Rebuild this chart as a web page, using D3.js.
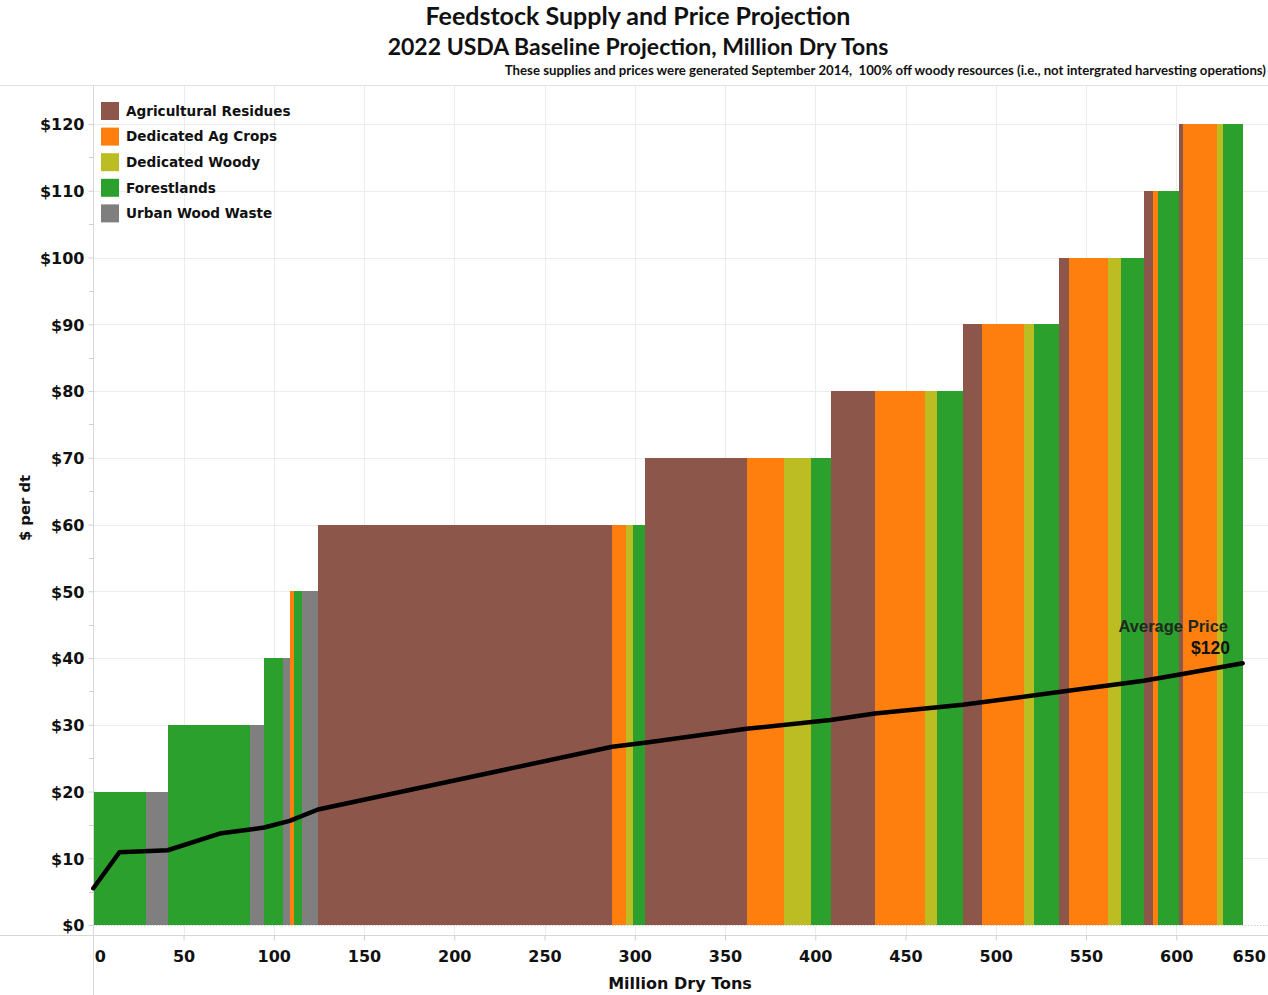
<!DOCTYPE html>
<html>
<head>
<meta charset="utf-8">
<script src="https://cdn.jsdelivr.net/npm/d3@7"></script>
<style>
  html, body { margin: 0; padding: 0; background: #fff; }
  svg { display: block; }
</style>
</head>
<body>
<svg id="chart" width="1268" height="995"></svg>
<script>
// ---------- DATA ----------
const categories = ["Agricultural Residues", "Dedicated Ag Crops", "Dedicated Woody", "Forestlands", "Urban Wood Waste"];
const categoryColors = ["#8c564b", "#ff7f0e", "#bcbd22", "#2ca02c", "#7f7f7f"];

// supply segments in order along the x axis (million dry tons), their price ($/dt) and category
const segPrice = [20, 20, 30, 30, 40, 40, 50, 50, 50,
                  60, 60, 60, 60, 70, 70, 70, 70, 80, 80, 80, 80,
                  90, 90, 90, 90, 100, 100, 100, 100, 110, 110, 110,
                  120, 120, 120, 120];
const segCategory = ["Forestlands", "Urban Wood Waste", "Forestlands", "Urban Wood Waste", "Forestlands", "Urban Wood Waste",
                     "Dedicated Ag Crops", "Forestlands", "Urban Wood Waste",
                     "Agricultural Residues", "Dedicated Ag Crops", "Dedicated Woody", "Forestlands",
                     "Agricultural Residues", "Dedicated Ag Crops", "Dedicated Woody", "Forestlands",
                     "Agricultural Residues", "Dedicated Ag Crops", "Dedicated Woody", "Forestlands",
                     "Agricultural Residues", "Dedicated Ag Crops", "Dedicated Woody", "Forestlands",
                     "Agricultural Residues", "Dedicated Ag Crops", "Dedicated Woody", "Forestlands",
                     "Agricultural Residues", "Dedicated Ag Crops", "Forestlands",
                     "Agricultural Residues", "Dedicated Ag Crops", "Dedicated Woody", "Forestlands"];
const segTons = [29.0, 12.2, 45.6, 7.9, 10.2, 3.9, 2.6, 4.5, 8.6,
                 163.0, 7.5, 4.2, 6.4, 56.4, 20.7, 14.8, 11.0,
                 24.6, 27.7, 6.8, 14.1, 10.5, 23.4, 5.7, 13.7,
                 5.6, 21.7, 7.1, 12.7, 5.2, 2.7, 11.7,
                 1.8, 18.9, 3.3, 11.1];

// average price line (cumulative million dry tons, $/dt)
const avgTons  = [0, 14.5, 41.2, 70, 86.8, 94.7, 108.8, 124.5, 287.5, 305.6, 362, 408.5, 433, 481.7, 535, 582, 603.5, 636.8];
const avgPrice = [5.5, 10.9, 11.2, 13.7, 14.3, 14.6, 15.6, 17.3, 26.7, 27.3, 29.4, 30.7, 31.7, 33.0, 34.9, 36.6, 37.6, 39.2];

const xTicks = [0, 50, 100, 150, 200, 250, 300, 350, 400, 450, 500, 550, 600, 650];
const yTicks = [0, 10, 20, 30, 40, 50, 60, 70, 80, 90, 100, 110, 120];

const titleText = "Feedstock Supply and Price Projection";
const subtitleText = "2022 USDA Baseline Projection, Million Dry Tons";
const noteText = "These supplies and prices were generated September 2014,  100% off woody resources (i.e., not intergrated harvesting operations)";
const xTitle = "Million Dry Tons";
const yTitle = "$ per dt";
const avgLabel = ["Average Price", "$120"];

// ---------- CHART ----------
const W = 1268, H = 995;
const svg = d3.select("#chart");
const x = d3.scaleLinear().domain([0, 650]).range([93.3, 1266.5]);
const y = d3.scaleLinear().domain([0, 120]).range([925, 124]);
const color = d3.scaleOrdinal().domain(categories).range(categoryColors);
const axisFont = "'DejaVu Sans', sans-serif";
const labelFont = "'Liberation Sans', Arial, sans-serif";

// titles
svg.append("text").attr("x", 638).attr("y", 25).attr("text-anchor", "middle")
  .style("font-family", "Lato, sans-serif").style("font-weight", 700).style("font-size", "25px")
  .attr("fill", "#111").text(titleText);
svg.append("text").attr("x", 638).attr("y", 55).attr("text-anchor", "middle")
  .style("font-family", "Lato, sans-serif").style("font-weight", 700).style("font-size", "23px")
  .attr("fill", "#111").text(subtitleText);
svg.append("text").attr("x", 1266).attr("y", 75).attr("text-anchor", "end")
  .style("font-family", "Lato, sans-serif").style("font-weight", 700).style("font-size", "13.2px")
  .style("white-space", "pre").attr("fill", "#111").text(noteText);

// frame lines
const lineCol = "#d8d8d8";
svg.append("line").attr("x1", 0).attr("x2", W).attr("y1", 85.5).attr("y2", 85.5).attr("stroke", "#e2e2e2");

// gridlines
const grid = svg.append("g");
grid.selectAll(".hg").data(yTicks.filter(d => d > 0)).join("line")
  .attr("x1", x(0)).attr("x2", W).attr("y1", d => Math.round(y(d)) + 0.5).attr("y2", d => Math.round(y(d)) + 0.5)
  .attr("stroke", "#ececec");
grid.selectAll(".vg").data(xTicks.filter(d => d > 0 && d < 650)).join("line")
  .attr("x1", d => Math.round(x(d)) + 0.5).attr("x2", d => Math.round(x(d)) + 0.5).attr("y1", 86).attr("y2", 935)
  .attr("stroke", "#ececec");

// bars
const ends = Array.from(d3.cumsum(segTons));
const segs = segTons.map((t, i) => ({ x0: ends[i] - t, x1: ends[i], price: segPrice[i], cat: segCategory[i] }));
svg.append("g").selectAll("rect").data(segs).join("rect")
  .attr("x", d => x(d.x0)).attr("width", d => x(d.x1) - x(d.x0) + 0.3)
  .attr("y", d => y(d.price)).attr("height", d => y(0) - y(d.price))
  .attr("fill", d => color(d.cat)).attr("shape-rendering", "crispEdges");

// zero line (dotted)
svg.append("line").attr("x1", x(0)).attr("x2", W).attr("y1", y(0) + 0.5).attr("y2", y(0) + 0.5)
  .attr("stroke", "#bbbbbb").attr("stroke-dasharray", "1,2");

// axes lines
svg.append("line").attr("x1", 93.5).attr("x2", 93.5).attr("y1", 85).attr("y2", H).attr("stroke", lineCol);
svg.append("line").attr("x1", 0).attr("x2", W).attr("y1", 935.5).attr("y2", 935.5).attr("stroke", lineCol);

// y axis
const yAxis = d3.axisLeft(y).tickValues(yTicks).tickSize(5).tickPadding(4).tickFormat(d => "$" + d);
const gy = svg.append("g").attr("transform", "translate(93.5,0)").call(yAxis);
gy.select(".domain").remove();
gy.selectAll(".tick line").attr("stroke", "#cfcfcf");
gy.selectAll(".tick text").style("font-family", axisFont).style("font-weight", 700).style("font-size", "16px")
  .attr("fill", "#111").attr("dy", "0.36em");
// minor ticks
svg.append("g").selectAll("line").data(d3.range(5, 125, 10)).join("line")
  .attr("x1", 89).attr("x2", 93.5).attr("y1", d => Math.round(y(d)) + 0.5).attr("y2", d => Math.round(y(d)) + 0.5)
  .attr("stroke", "#cfcfcf");

// x axis
const xAxis = d3.axisBottom(x).tickValues(xTicks).tickSize(5).tickPadding(10).tickFormat(d3.format("d"));
const gx = svg.append("g").attr("transform", "translate(0,935.5)").call(xAxis);
gx.select(".domain").remove();
gx.selectAll(".tick line").attr("stroke", "#cfcfcf");
gx.selectAll(".tick text").style("font-family", axisFont).style("font-weight", 700).style("font-size", "16px")
  .attr("fill", "#111");
gx.selectAll(".tick").filter(d => d === 0).select("text").attr("text-anchor", "start").attr("x", 1);
gx.selectAll(".tick").filter(d => d === 650).select("text").attr("text-anchor", "end").attr("x", -1);
gx.selectAll(".tick").filter(d => d === 0 || d === 650).select("line").remove();

// axis titles
svg.append("text").attr("x", 680).attr("y", 989).attr("text-anchor", "middle")
  .style("font-family", axisFont).style("font-weight", 700).style("font-size", "16px").attr("fill", "#111").text(xTitle);
svg.append("text").attr("transform", "translate(30,508) rotate(-90)").attr("text-anchor", "middle")
  .style("font-family", axisFont).style("font-weight", 700).style("font-size", "14.8px").attr("fill", "#111").text(yTitle);

// average price line
const line = d3.line().x((d, i) => x(avgTons[i])).y((d, i) => y(avgPrice[i]));
svg.append("path").datum(avgPrice).attr("d", line).attr("fill", "none")
  .attr("stroke", "#000").attr("stroke-width", 4.5).attr("stroke-linejoin", "round").attr("stroke-linecap", "round");

svg.append("text").attr("x", 1228).attr("y", 632).attr("text-anchor", "end")
  .style("font-family", labelFont).style("font-weight", 700).style("font-size", "16.5px").attr("fill", "#1d2a1d").text(avgLabel[0]);
svg.append("text").attr("x", 1230).attr("y", 654).attr("text-anchor", "end")
  .style("font-family", labelFont).style("font-weight", 700).style("font-size", "17.5px").attr("fill", "#111").text(avgLabel[1]);

// legend
const lg = svg.append("g").attr("transform", "translate(101,102)");
const li = lg.selectAll("g").data(categories).join("g").attr("transform", (d, i) => `translate(0,${i * 25.6})`);
li.append("rect").attr("width", 18).attr("height", 18).attr("fill", d => color(d));
li.append("text").attr("x", 25).attr("y", 9).attr("dy", "0.36em")
  .style("font-family", axisFont).style("font-weight", 700).style("font-size", "13.6px").attr("fill", "#111").text(d => d);
</script>
</body>
</html>
